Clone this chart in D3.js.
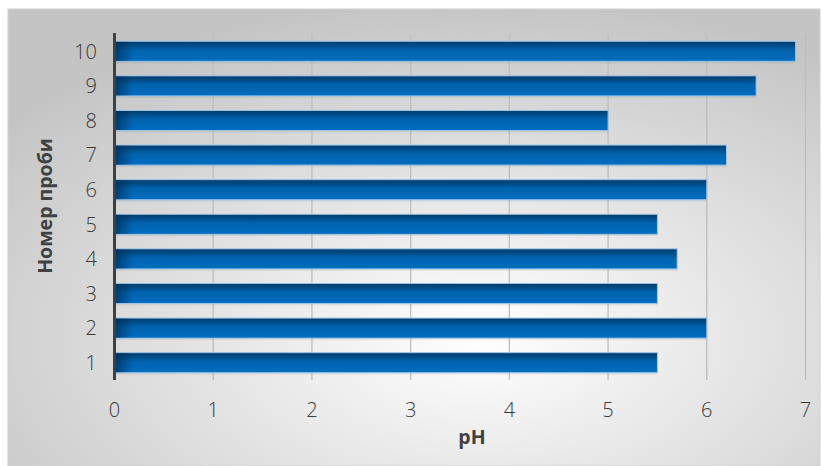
<!DOCTYPE html>
<html><head><meta charset="utf-8">
<script src="https://cdn.jsdelivr.net/npm/d3@7/dist/d3.min.js"></script>
<style>body{margin:0;background:#fff}svg{display:block}</style>
</head><body>
<svg id="c" width="822" height="466"></svg>
<script>
const categories = ["1","2","3","4","5","6","7","8","9","10"];
const values = [5.5, 6.0, 5.5, 5.7, 5.5, 6.0, 6.2, 5.0, 6.5, 6.9];
const xTicks = [0,1,2,3,4,5,6,7];
const xTitle = "pH";
const yTitle = "Номер проби";

const svg = d3.select("#c");
const defs = svg.append("defs");
const bg = defs.append("radialGradient").attr("id","bg")
  .attr("cx","0.58").attr("cy","0.72").attr("r","0.75");
bg.append("stop").attr("offset","0").attr("stop-color","#ffffff");
bg.append("stop").attr("offset","1").attr("stop-color","#c4c4c4");

const bar = defs.append("linearGradient").attr("id","bar")
  .attr("x1",0).attr("y1",0).attr("x2",0).attr("y2",1);
bar.append("stop").attr("offset","0").attr("stop-color","#003a6a");
bar.append("stop").attr("offset","0.45").attr("stop-color","#0063ad");
bar.append("stop").attr("offset","1").attr("stop-color","#006dc0");

const sh = defs.append("linearGradient").attr("id","shade")
  .attr("x1",0).attr("y1",0).attr("x2",1).attr("y2",0);
sh.append("stop").attr("offset","0").attr("stop-color","#002a50").attr("stop-opacity",0.7);
sh.append("stop").attr("offset","1").attr("stop-color","#002a50").attr("stop-opacity",0);

svg.append("rect").attr("x",8).attr("y",9).attr("width",812).attr("height",457)
  .attr("fill","url(#bg)").attr("stroke","#d0d0d0");

const m = {l:114.5, r:805.5, t:34, b:380};
const x = d3.scaleLinear().domain([0,7]).range([m.l, m.r]);
const y = d3.scaleBand().domain(categories.slice().reverse()).range([m.t, m.b]).paddingInner(0.42).paddingOuter(0.21);

svg.append("g").selectAll("line").data(xTicks.filter(d=>d>0)).join("line")
  .attr("x1",d=>x(d)).attr("x2",d=>x(d)).attr("y1",m.t).attr("y2",m.b)
  .attr("stroke","#bdbdbd").attr("stroke-width",1.3);

const data = categories.map((c,i)=>({c, v:values[i]}));
const g = svg.append("g");
g.selectAll("rect.sh").data(data).join("rect").attr("class","sh")
  .attr("x",x(0)).attr("y",d=>y(d.c)+y.bandwidth()).attr("width",d=>x(d.v)-x(0)).attr("height",2)
  .attr("fill","#000").attr("opacity",0.06);
g.selectAll("rect.b").data(data).join("rect").attr("class","b")
  .attr("x",x(0)).attr("y",d=>y(d.c)).attr("width",d=>x(d.v)-x(0)).attr("height",y.bandwidth())
  .attr("fill","url(#bar)").attr("stroke","#9cc6ea").attr("stroke-width",1);
g.selectAll("rect.s").data(data).join("rect").attr("class","s")
  .attr("x",x(0)+0.5).attr("y",d=>y(d.c)+0.5).attr("width",18).attr("height",y.bandwidth()-1)
  .attr("fill","url(#shade)");

svg.append("line").attr("x1",x(0)).attr("x2",x(0)).attr("y1",m.t-1).attr("y2",m.b)
  .attr("stroke","#404040").attr("stroke-width",3);

const font = "'Open Sans', sans-serif";
svg.append("g").selectAll("text").data(categories).join("text")
  .attr("x",97).attr("y",d=>y(d)+y.bandwidth()/2).attr("dy","0.36em")
  .attr("text-anchor","end").attr("font-family",font).attr("font-size",20)
  .attr("font-weight",300).attr("fill","#3a3a3a").text(d=>d);
svg.append("g").selectAll("text").data(xTicks).join("text")
  .attr("x",d=>x(d)).attr("y",410).attr("dy","0.36em")
  .attr("text-anchor","middle").attr("font-family",font).attr("font-size",20)
  .attr("font-weight",300).attr("fill","#3a3a3a").text(d=>d);

svg.append("text").attr("x",(m.l+m.r)/2+12).attr("y",437).attr("dy","0.36em")
  .attr("text-anchor","middle").attr("font-family",font).attr("font-weight","bold")
  .attr("font-size",19.5).attr("fill","#404040").text(xTitle);
svg.append("text").attr("transform","translate(45,206) rotate(-90)").attr("dy","0.36em")
  .attr("text-anchor","middle").attr("font-family",font).attr("font-weight","bold")
  .attr("font-size",19.5).attr("fill","#404040").text(yTitle);
</script>
</body></html>
